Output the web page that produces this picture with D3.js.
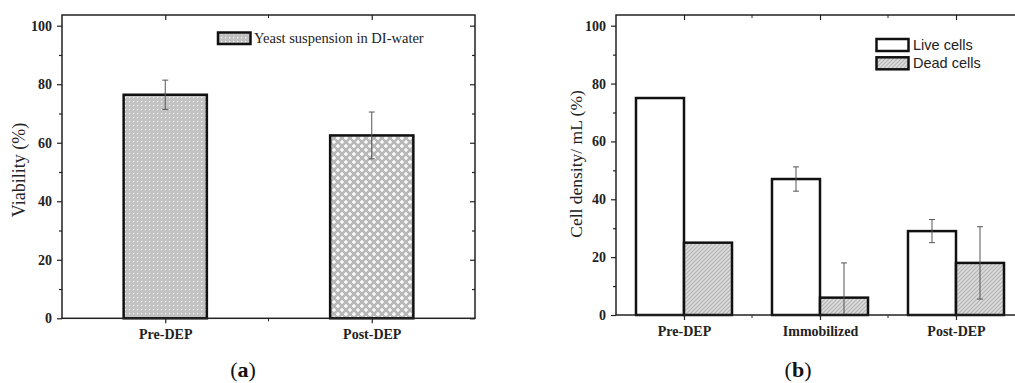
<!DOCTYPE html>
<html>
<head>
<meta charset="utf-8">
<script src="https://cdn.jsdelivr.net/npm/d3@7"></script>
<style>
  body { margin: 0; background: #fff; }
  svg { display: block; }
</style>
</head>
<body>
<script>
// data
var catsA = ["Pre-DEP", "Post-DEP"];
var viability = [76.4, 62.5];
var viabilityErr = [5, 8];
var legendA = "Yeast suspension in DI-water";

var catsB = ["Pre-DEP", "Immobilized", "Post-DEP"];
var live = [75, 47, 29];
var liveErr = [0, 4.2, 4];
var dead = [25, 6, 18];
var deadErr = [0, 12, 12.5];
var legendB = ["Live cells", "Dead cells"];

var yTicks = [0, 20, 40, 60, 80, 100];
var yMinor = [10, 30, 50, 70, 90];

var W = 1015, H = 383;
var svg = d3.select("body").append("svg").attr("width", W).attr("height", H);
var defs = svg.append("defs");

// fill patterns
var p1 = defs.append("pattern").attr("id", "dots").attr("patternUnits", "userSpaceOnUse")
  .attr("width", 4).attr("height", 4);
p1.append("rect").attr("width", 4).attr("height", 4).attr("fill", "#c2c2c2");
p1.append("rect").attr("x", 1).attr("y", 1).attr("width", 1.2).attr("height", 1.2).attr("fill", "#f4f4f4");

var p2 = defs.append("pattern").attr("id", "diam").attr("patternUnits", "userSpaceOnUse")
  .attr("width", 8).attr("height", 8);
p2.append("rect").attr("width", 8).attr("height", 8).attr("fill", "#b8b8b8");
[[2, 2], [6, 6]].forEach(function(c) {
  p2.append("path").attr("d", "M" + (c[0] - 2.2) + "," + c[1] + "L" + c[0] + "," + (c[1] - 2.2) +
    "L" + (c[0] + 2.2) + "," + c[1] + "L" + c[0] + "," + (c[1] + 2.2) + "Z").attr("fill", "#fafafa");
});

var p3 = defs.append("pattern").attr("id", "hatch").attr("patternUnits", "userSpaceOnUse")
  .attr("width", 4).attr("height", 4);
p3.append("rect").attr("width", 4).attr("height", 4).attr("fill", "#dcdcdc");
p3.append("path").attr("d", "M-1,1L1,-1M0,4L4,0M3,5L5,3").attr("stroke", "#b4b4b4").attr("stroke-width", 1.2);

var serif = "'Liberation Serif', 'DejaVu Serif', serif";
var sans = "'Liberation Sans', Arial, sans-serif";

function frame(g, x, y, x0, x1, y0, y1, cats) {
  var step = x.step();
  var mids = cats.slice(0, -1).map(function(c) { return x(c) + step / 2; });

  // box
  g.append("rect").attr("x", x0).attr("y", y1).attr("width", x1 - x0).attr("height", y0 - y1)
    .attr("fill", "none").attr("stroke", "#222").attr("stroke-width", 1.5);

  // left and right axes, major and minor ticks in their own groups
  g.append("g").attr("transform", "translate(" + x0 + ",0)")
    .call(d3.axisLeft(y).tickValues(yTicks).tickSize(5).tickPadding(5).tickFormat(d3.format("d")));
  g.append("g").attr("transform", "translate(" + x0 + ",0)")
    .call(d3.axisLeft(y).tickValues(yMinor).tickSize(3).tickFormat(""));
  g.append("g").attr("transform", "translate(" + x1 + ",0)")
    .call(d3.axisRight(y).tickValues(yTicks).tickSize(-5).tickFormat(""));
  g.append("g").attr("transform", "translate(" + x1 + ",0)")
    .call(d3.axisRight(y).tickValues(yMinor).tickSize(-3).tickFormat(""));

  // bottom and top axes
  var bottom = g.append("g").attr("transform", "translate(0," + y0 + ")")
    .call(d3.axisBottom(x).tickSize(5).tickPadding(6));
  bottom.selectAll(".mn").data(mids).enter().append("line").attr("class", "mn")
    .attr("x1", function(d) { return d; }).attr("x2", function(d) { return d; })
    .attr("y1", 0).attr("y2", 3).attr("stroke", "#222");
  var top = g.append("g").attr("transform", "translate(0," + y1 + ")")
    .call(d3.axisTop(x).tickSize(-5).tickFormat(""));
  top.selectAll(".mn").data(mids).enter().append("line").attr("class", "mn")
    .attr("x1", function(d) { return d; }).attr("x2", function(d) { return d; })
    .attr("y1", 0).attr("y2", 3).attr("stroke", "#222");

  g.selectAll(".domain").remove();
  g.selectAll(".tick line").attr("stroke", "#222").attr("stroke-width", 1.2);
  g.selectAll(".tick text").attr("font-family", serif).attr("font-weight", "bold")
    .attr("font-size", 14).attr("fill", "#222");
}

function errbar(g, cx, v, e, y) {
  if (!e) return;
  var lo = Math.max(0, v - e), hi = v + e;
  g.append("line").attr("x1", cx).attr("x2", cx).attr("y1", y(lo)).attr("y2", y(hi))
    .attr("stroke", "#555").attr("stroke-width", 1);
  [lo, hi].forEach(function(t) {
    if (t <= 0) return;
    g.append("line").attr("x1", cx - 3).attr("x2", cx + 3).attr("y1", y(t)).attr("y2", y(t))
      .attr("stroke", "#555").attr("stroke-width", 1);
  });
}

// ---- panel (a)
var gA = svg.append("g");
var xA = d3.scalePoint().domain(catsA).range([62, 475]).padding(0.5);
var yA = d3.scaleLinear().domain([0, 100]).range([318.3, 25.7]);
var bwA = xA.step() * 0.403;
var fillsA = ["url(#dots)", "url(#diam)"];

gA.selectAll(".bar").data(catsA).enter().append("rect").attr("class", "bar")
  .attr("x", function(d) { return xA(d) - bwA / 2; })
  .attr("y", function(d, i) { return yA(viability[i]); })
  .attr("width", bwA)
  .attr("height", function(d, i) { return yA(0) - yA(viability[i]); })
  .attr("fill", function(d, i) { return fillsA[i]; })
  .attr("stroke", "#111").attr("stroke-width", 2.5);
catsA.forEach(function(c, i) { errbar(gA, xA(c), viability[i], viabilityErr[i], yA); });
frame(gA, xA, yA, 62, 475, yA(0), 15, catsA);

gA.append("rect").attr("x", 218).attr("y", 32.5).attr("width", 32.5).attr("height", 11.5)
  .attr("fill", "url(#dots)").attr("stroke", "#111").attr("stroke-width", 2.5);
gA.append("text").attr("x", 254).attr("y", 43).attr("font-family", serif).attr("font-size", 14.5)
  .attr("fill", "#222").text(legendA);

gA.append("text").attr("transform", "translate(25,170) rotate(-90)").attr("text-anchor", "middle")
  .attr("font-family", serif).attr("font-size", 18).attr("fill", "#222").text("Viability (%)");

// ---- panel (b)
var gB = svg.append("g");
var xB = d3.scalePoint().domain(catsB).range([616, 1024]).padding(0.5);
var yB = d3.scaleLinear().domain([0, 100]).range([315, 25.7]);
var bwB = xB.step() * 0.353;

gB.selectAll(".live").data(catsB).enter().append("rect").attr("class", "live")
  .attr("x", function(d) { return xB(d) - bwB; })
  .attr("y", function(d, i) { return yB(live[i]); })
  .attr("width", bwB)
  .attr("height", function(d, i) { return yB(0) - yB(live[i]); })
  .attr("fill", "#fff").attr("stroke", "#111").attr("stroke-width", 2.5);
gB.selectAll(".dead").data(catsB).enter().append("rect").attr("class", "dead")
  .attr("x", function(d) { return xB(d); })
  .attr("y", function(d, i) { return yB(dead[i]); })
  .attr("width", bwB)
  .attr("height", function(d, i) { return yB(0) - yB(dead[i]); })
  .attr("fill", "url(#hatch)").attr("stroke", "#111").attr("stroke-width", 2.5);
catsB.forEach(function(c, i) {
  errbar(gB, xB(c) - bwB / 2, live[i], liveErr[i], yB);
  errbar(gB, xB(c) + bwB / 2, dead[i], deadErr[i], yB);
});
frame(gB, xB, yB, 616, 1024, yB(0), 15, catsB);

var legFills = ["#fff", "url(#hatch)"];
legendB.forEach(function(t, i) {
  gB.append("rect").attr("x", 876.5).attr("y", 39 + i * 18.3).attr("width", 32).attr("height", 12)
    .attr("fill", legFills[i]).attr("stroke", "#111").attr("stroke-width", 2.5);
  gB.append("text").attr("x", 913).attr("y", 50 + i * 18.3).attr("font-family", sans)
    .attr("font-size", 14.5).attr("fill", "#222").text(t);
});

gB.append("text").attr("transform", "translate(582,164) rotate(-90)").attr("text-anchor", "middle")
  .attr("font-family", serif).attr("font-size", 17.5).attr("fill", "#222").text("Cell density/ mL (%)");

// captions
[["a", 243], ["b", 798]].forEach(function(c) {
  var t = svg.append("text").attr("x", c[1]).attr("y", 377).attr("text-anchor", "middle")
    .attr("font-family", serif).attr("font-size", 22).attr("fill", "#111");
  t.append("tspan").text("(");
  t.append("tspan").attr("font-weight", "bold").text(c[0]);
  t.append("tspan").text(")");
});
</script>
</body>
</html>
